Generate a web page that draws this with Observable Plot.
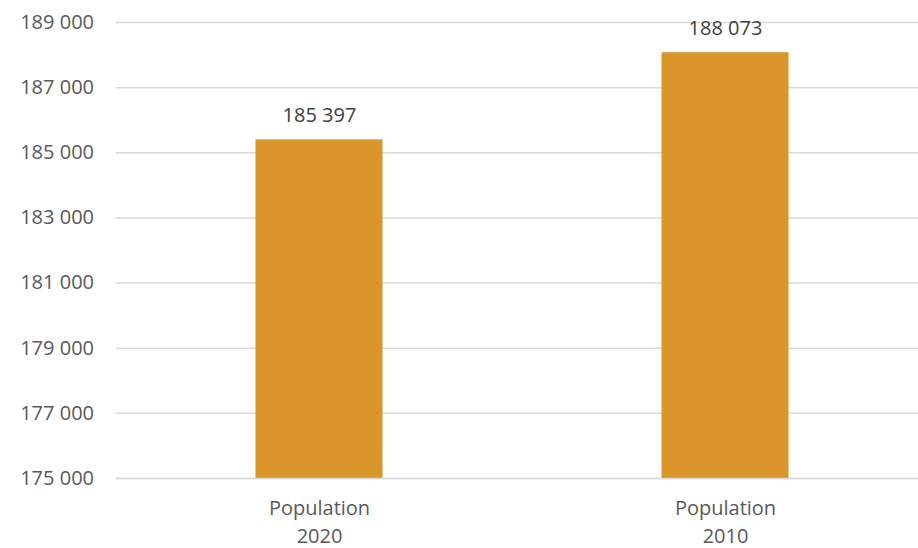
<!DOCTYPE html>
<html>
<head>
<meta charset="utf-8">
<script src="https://cdn.jsdelivr.net/npm/d3@7"></script>
<script src="https://cdn.jsdelivr.net/npm/@observablehq/plot@0.6"></script>
<style>
  html, body { margin: 0; padding: 0; background: #fff; overflow: hidden; }
  #chart { width: 918px; height: 548px; overflow: hidden; }
  #chart svg { max-width: none !important; }
</style>
</head>
<body>
<div id="chart"></div>
<script>
const categories = ["Population\n2020", "Population\n2010"];
const values = [185397, 188073];
const yTicks = [175000, 177000, 179000, 181000, 183000, 185000, 187000, 189000];

const data = categories.map((c, i) => ({category: c, value: values[i]}));
const fmt = v => d3.format(",")(v).replace(/,/g, " ");

const chart = Plot.plot({
  width: 928,
  height: 548,
  marginLeft: 115.5,
  marginRight: 0,
  marginTop: 22,
  marginBottom: 70,
  style: {fontFamily: "'Open Sans', sans-serif", fontSize: "20px", color: "#595959", background: "#fff", overflow: "visible", maxWidth: "none"},
  x: {domain: categories, padding: 0, label: null},
  y: {domain: [175000, 189000], label: null},
  marks: [
    Plot.gridY(yTicks, {stroke: "#d9d9d9", strokeOpacity: 1, strokeWidth: 1.5}),
    Plot.barY(data, {x: "category", y1: 175000, y2: "value", fill: "#DA952B", insetLeft: 139.5, insetRight: 139.5}),
    Plot.ruleY([175000], {stroke: "#d9d9d9", strokeWidth: 1.5}),
    Plot.text(data, {x: "category", y: "value", text: d => fmt(d.value), lineAnchor: "bottom", dy: -18, fill: "#404040", fontSize: 20}),
    Plot.axisY(yTicks, {tickSize: 0, tickPadding: 22, tickFormat: fmt, fill: "#595959", fontSize: 20, label: null}),
    Plot.axisX({tickSize: 0, tickPadding: 17, fill: "#595959", fontSize: 20, lineHeight: 1.4, label: null})
  ]
});
document.getElementById("chart").appendChild(chart);
</script>
</body>
</html>
